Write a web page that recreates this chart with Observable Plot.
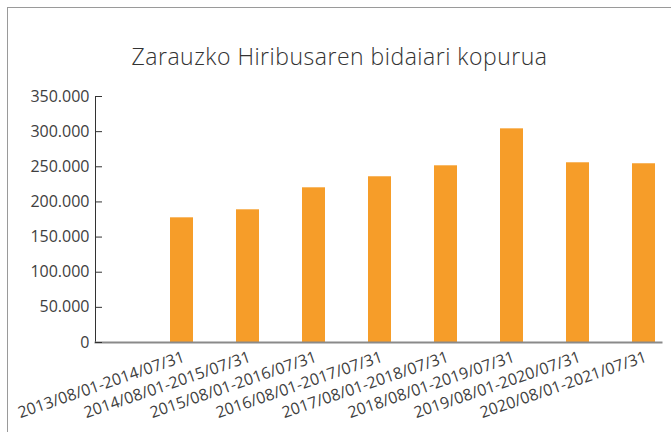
<!DOCTYPE html>
<html><head><meta charset="utf-8">
<script src="https://cdn.jsdelivr.net/npm/d3@7"></script>
<script src="https://cdn.jsdelivr.net/npm/@observablehq/plot@0.6"></script>
<style>
html,body{margin:0;padding:0;background:#fff;overflow:hidden}
#wrap{position:relative;width:671px;height:432px;overflow:hidden;font-family:"Open Sans",sans-serif}
#frame{position:absolute;left:7px;top:7px;width:800px;height:600px;border:1.5px solid #9a9a9a}
#title{position:absolute;left:8px;width:663px;top:41px;text-align:center;font-size:23px;letter-spacing:0.5px;font-weight:300;color:#333;line-height:30px;white-space:nowrap}
#chart{position:absolute;left:0;top:80px}
</style></head><body>
<div id="wrap"><div id="frame"></div><div id="title">Zarauzko Hiribusaren bidaiari kopurua</div><div id="chart"></div></div>
<script>
const periods = ["2013/08/01-2014/07/31","2014/08/01-2015/07/31","2015/08/01-2016/07/31","2016/08/01-2017/07/31","2017/08/01-2018/07/31","2018/08/01-2019/07/31","2019/08/01-2020/07/31","2020/08/01-2021/07/31"];
const passengers = [177400, 188800, 220100, 235800, 251400, 304000, 255700, 254300];
const yTicks = [0, 50000, 100000, 150000, 200000, 250000, 300000, 350000];
const data = periods.map((p, i) => ({period: p, value: passengers[i]}));
const fmt = d3.formatLocale({decimal: ",", thousands: ".", grouping: [3], currency: ["", ""]}).format(",");
const plot = Plot.plot({
  width: 671, height: 352, marginTop: 16, marginBottom: 90, marginLeft: 95, marginRight: 10,
  style: {fontFamily: "Open Sans", fontSize: "16px", color: "#404040", background: "transparent", overflow: "visible"},
  x: {domain: periods, range: [133.6, 690.3], paddingInner: 0.655, paddingOuter: 0.5, align: 0.5},
  y: {domain: [0, 350000]},
  marks: [
    Plot.barY(data, {x: "period", y: "value", fill: "#F69D29"}),
    Plot.frame({anchor: "left", stroke: "#333"}),
    Plot.frame({anchor: "bottom", stroke: "#8a8a8a", strokeWidth: 2}),
    Plot.axisY({ticks: yTicks, tickFormat: fmt, tickSize: -7, tickPadding: 13, stroke: "#333", label: null, fontSize: 16}),
    Plot.axisX({tickSize: 0, tickRotate: -19, tickPadding: 14, dx: 2, label: null, fontSize: 16})
  ]
});
document.getElementById("chart").appendChild(plot);
</script>
</body></html>
